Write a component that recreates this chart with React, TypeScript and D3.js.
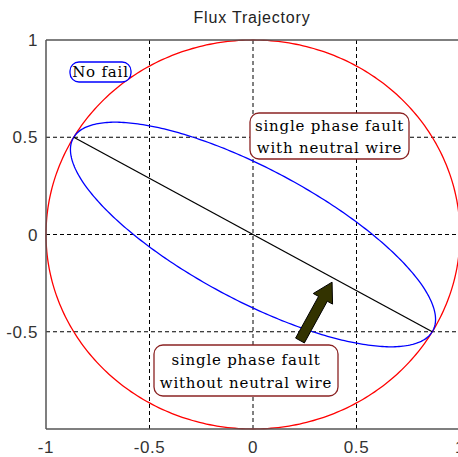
import React from "react";
import * as d3 from "d3";

const xTicks = [-1, -0.5, 0, 0.5, 1];
const xTickLabels = ["-1", "-0.5", "0", "0.5", "1"];
const yTicks = [1, 0.5, 0, -0.5];
const yTickLabels = ["1", "0.5", "0", "-0.5"];
const gridX = [-0.5, 0, 0.5];
const gridY = [0.5, 0, -0.5];

// No fault: circle radius 1
const circleRadius = 1;
// Single phase fault with neutral: ellipse semi-axes & rotation
const ellipseAxes = [1, 1 / 3];
const ellipseAngleDeg = -30;
// Single phase fault without neutral: line segment
const lineX = [-0.866, 0.866];
const lineY = [0.5, -0.5];
// Arrow (data coords): tail -> tip
const arrowX = [0.227, 0.382];
const arrowY = [-0.545, -0.245];

const W = 458;
const H = 457;

export default function App() {
  const x = d3.scaleLinear().domain([-1, 1]).range([46, 460]);
  const y = d3.scaleLinear().domain([-1, 1]).range([429, 40]);
  const line = d3
    .line<[number, number]>()
    .x((d) => x(d[0]))
    .y((d) => y(d[1]));

  const angles = d3.range(0, 361, 1).map((a) => (a * Math.PI) / 180);
  const circlePts: [number, number][] = angles.map((t) => [
    circleRadius * Math.cos(t),
    circleRadius * Math.sin(t),
  ]);
  const th = (ellipseAngleDeg * Math.PI) / 180;
  const u = [Math.cos(th), Math.sin(th)];
  const v = [-Math.sin(th), Math.cos(th)];
  const ellipsePts: [number, number][] = angles.map((t) => [
    ellipseAxes[0] * Math.cos(t) * u[0] + ellipseAxes[1] * Math.sin(t) * v[0],
    ellipseAxes[0] * Math.cos(t) * u[1] + ellipseAxes[1] * Math.sin(t) * v[1],
  ]);
  const segPts: [number, number][] = lineX.map((d, i) => [d, lineY[i]]);

  // arrow polygon in pixels
  const tx = x(arrowX[0]), ty = y(arrowY[0]);
  const hx = x(arrowX[1]), hy = y(arrowY[1]);
  const len = Math.hypot(hx - tx, hy - ty);
  const dx = (hx - tx) / len, dy = (hy - ty) / len;
  const nx = -dy, ny = dx;
  const shaftW = 5, headW = 11, headL = 19;
  const bx = hx - dx * headL, by = hy - dy * headL;
  const arrowPoly = [
    [tx + nx * shaftW, ty + ny * shaftW],
    [bx + nx * shaftW, by + ny * shaftW],
    [bx + nx * headW, by + ny * headW],
    [hx, hy],
    [bx - nx * headW, by - ny * headW],
    [bx - nx * shaftW, by - ny * shaftW],
    [tx - nx * shaftW, ty - ny * shaftW],
  ]
    .map((p) => p.join(","))
    .join(" ");

  const serif = "'DejaVu Serif', serif";
  const sans = "'Liberation Sans', Arial, sans-serif";
  const annFont = 15;
  const annSpacing = 0.8;

  return (
    <svg
      width={W}
      height={H}
      style={{ position: "absolute", left: 0, top: 0, background: "#fff" }}
    >
      <rect x={0} y={0} width={W} height={H} fill="#fff" />
      <text x={252} y={23} textAnchor="middle" fontFamily={sans} fontSize={16} letterSpacing={0.8} fill="#222">
        Flux Trajectory
      </text>
      {/* grid */}
      {gridX.map((g) => (
        <line key={"gx" + g} x1={x(g)} x2={x(g)} y1={y(1)} y2={y(-1)} stroke="#000" strokeWidth={1} strokeDasharray="4,3" />
      ))}
      {gridY.map((g) => (
        <line key={"gy" + g} x1={x(-1)} x2={x(1)} y1={y(g)} y2={y(g)} stroke="#000" strokeWidth={1} strokeDasharray="4,3" />
      ))}
      {/* curves */}
      <path d={line(circlePts) || ""} fill="none" stroke="#ff0000" strokeWidth={1.3} />
      <path d={line(ellipsePts) || ""} fill="none" stroke="#0000ff" strokeWidth={1.3} />
      <path d={line(segPts) || ""} fill="none" stroke="#000" strokeWidth={1.3} />
      {/* axes box */}
      <line x1={x(-1)} x2={x(1)} y1={y(1)} y2={y(1)} stroke="#555" strokeWidth={1.5} />
      <line x1={x(-1)} x2={x(1)} y1={y(-1)} y2={y(-1)} stroke="#555" strokeWidth={1.5} />
      <line x1={x(-1)} x2={x(-1)} y1={y(1)} y2={y(-1)} stroke="#555" strokeWidth={1.5} />
      <line x1={x(1)} x2={x(1)} y1={y(1)} y2={y(-1)} stroke="#555" strokeWidth={1.5} />
      {/* tick labels */}
      {yTicks.map((t, i) => (
        <text key={"yt" + t} x={38} y={y(t) + 6} textAnchor="end" fontFamily={sans} fontSize={17} letterSpacing={0.6} fill="#333">
          {yTickLabels[i]}
        </text>
      ))}
      {xTicks.map((t, i) => (
        <text key={"xt" + t} x={x(t)} y={453} textAnchor="middle" fontFamily={sans} fontSize={17} letterSpacing={0.6} fill="#333">
          {xTickLabels[i]}
        </text>
      ))}
      {/* arrow */}
      <polygon points={arrowPoly} fill="#333300" stroke="#000" strokeWidth={1} strokeLinejoin="miter" />
      {/* annotations */}
      <rect x={70} y={62} width={61} height={20} rx={9} fill="#fff" stroke="#0000ff" strokeWidth={1.3} />
      <text x={100.5} y={77} textAnchor="middle" fontFamily={serif} fontSize={annFont} letterSpacing={annSpacing} fill="#000">No fail</text>

      <rect x={250} y={113} width={159} height={46} rx={9} fill="#fff" stroke="#8b2323" strokeWidth={1.3} />
      <text x={329.5} y={131} textAnchor="middle" fontFamily={serif} fontSize={annFont} letterSpacing={annSpacing} fill="#000">single phase fault</text>
      <text x={329.5} y={153} textAnchor="middle" fontFamily={serif} fontSize={annFont} letterSpacing={annSpacing} fill="#000">with neutral wire</text>

      <rect x={154} y={345} width={184} height={51} rx={9} fill="#fff" stroke="#8b2323" strokeWidth={1.3} />
      <text x={246} y={365} textAnchor="middle" fontFamily={serif} fontSize={annFont} letterSpacing={annSpacing} fill="#000">single phase fault</text>
      <text x={246} y={388} textAnchor="middle" fontFamily={serif} fontSize={annFont} letterSpacing={annSpacing} fill="#000">without neutral wire</text>
    </svg>
  );
}
